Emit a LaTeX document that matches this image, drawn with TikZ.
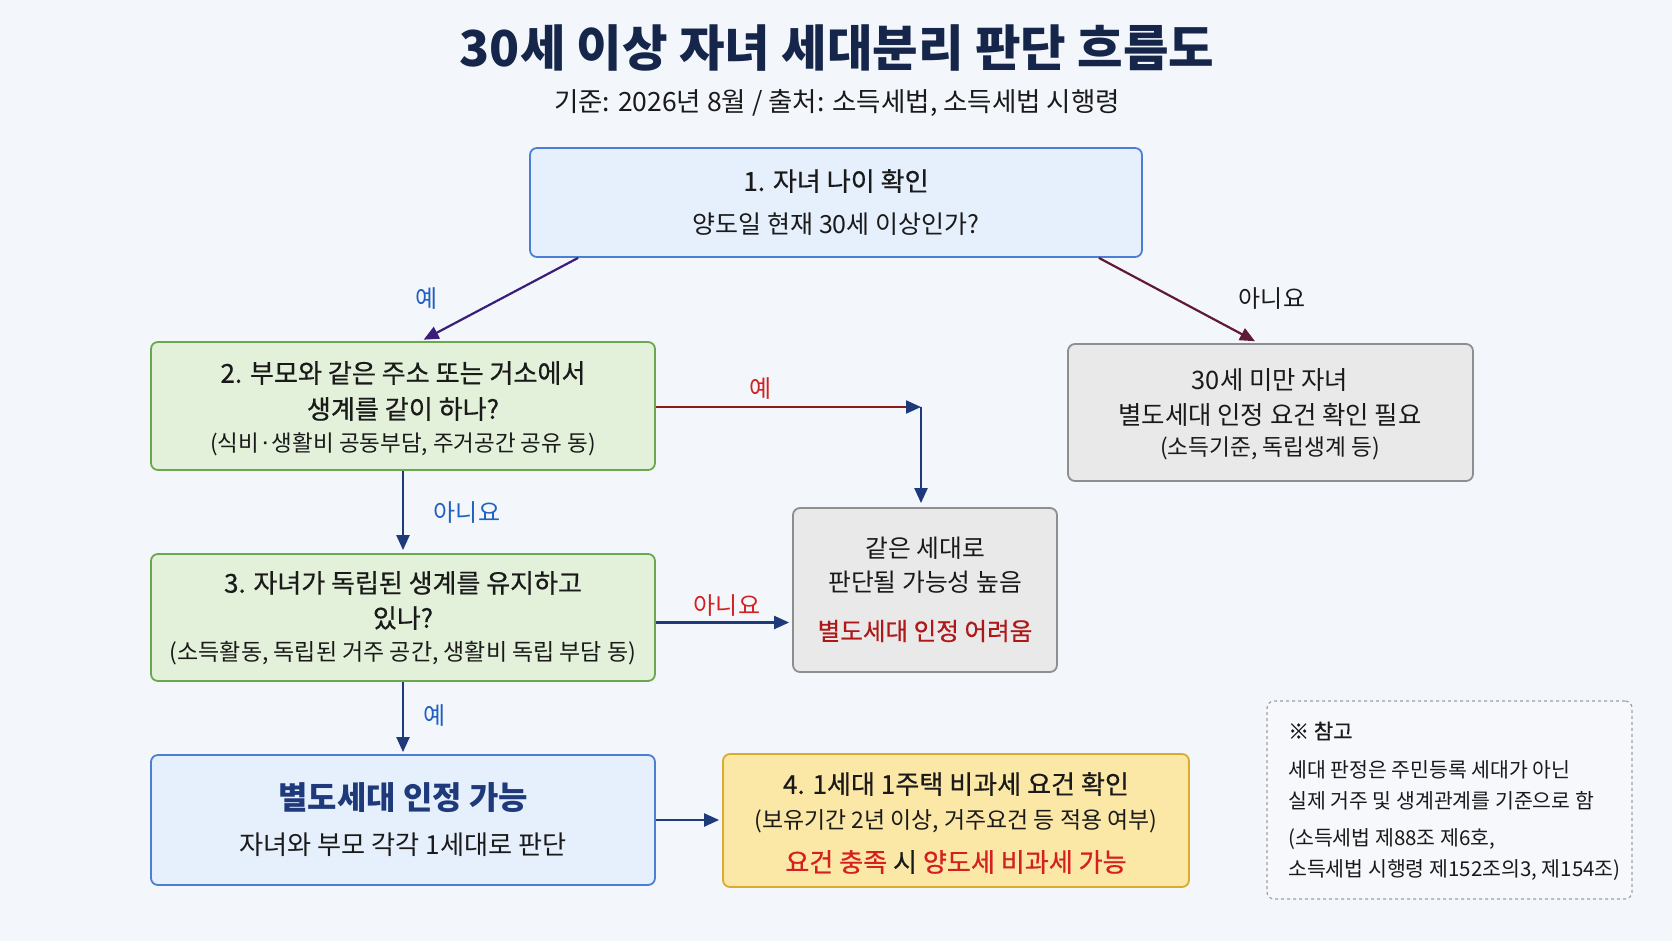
\documentclass[tikz,border=0pt]{standalone}
\usepackage{fontspec}
\setmainfont{Noto Sans CJK KR}
\newfontfamily\medf{Noto Sans CJK KR}[FakeBold=0.6]
\usetikzlibrary{arrows.meta}
\definecolor{bgc}{HTML}{F3F7FC}
\definecolor{titlec}{HTML}{16264A}
\definecolor{txt}{HTML}{1A1A1A}
\definecolor{b1fill}{HTML}{E6EFFC}
\definecolor{b1line}{HTML}{4A7FD4}
\definecolor{gfill}{HTML}{E3F1DA}
\definecolor{gline}{HTML}{6AA84F}
\definecolor{grfill}{HTML}{E9E9EA}
\definecolor{grline}{HTML}{8E8E8E}
\definecolor{yfill}{HTML}{FCE8A6}
\definecolor{yline}{HTML}{D9AB2E}
\definecolor{nfill}{HTML}{F6F8FB}
\definecolor{nline}{HTML}{A0A0A0}
\definecolor{navy}{HTML}{1F3A7A}
\definecolor{purp}{HTML}{3A1E78}
\definecolor{maroon}{HTML}{5E1A36}
\definecolor{darkred}{HTML}{8B1A1A}
\definecolor{lblue}{HTML}{2060C0}
\definecolor{lred}{HTML}{D42020}
\definecolor{warnred}{HTML}{B01818}
\newcommand\fsz[1]{\fontsize{#1}{#1}\selectfont}
\begin{document}
\begin{tikzpicture}[x=1pt,y=-1pt,
  boxbase/.style={rectangle,rounded corners=7pt,line width=1.8pt,inner sep=0pt},
  bluebox/.style={boxbase,draw=b1line,fill=b1fill},
  greenbox/.style={boxbase,draw=gline,fill=gfill},
  graybox/.style={boxbase,draw=grline,fill=grfill},
  yellowbox/.style={boxbase,draw=yline,fill=yfill},
  notebox/.style={boxbase,draw=nline,fill=nfill,dashed,line width=1.2pt},
  txtn/.style={inner sep=0pt,text=txt,font=\fsz{25pt}},
  headt/.style={txtn,font=\medf\fsz{26.1pt}},
  subt/.style={txtn,font=\fsz{22.8pt}},
  notet/.style={txtn,anchor=west,font=\fsz{20.5pt}},
  lbl/.style={inner sep=0pt,font=\fsz{24pt}},
  arr/.style={line width=2.2pt,draw=navy,-{Triangle[length=15pt,width=13pt]}}
]
\fill[bgc] (0,0) rectangle (1672,941);
\useasboundingbox (0,0) rectangle (1672,941);

% title
\node[inner sep=0pt,text=titlec,font=\bfseries\fsz{49.5pt}] (title) at (837,48) {30세 이상 자녀 세대분리 판단 흐름도};
\node[txtn,font=\fsz{26.5pt},text=txt] (subtitle) at (837,103) {기준: 2026년 8월 / 출처: 소득세법, 소득세법 시행령};

% boxes
\node[bluebox,minimum width=612pt,minimum height=109pt] (n1) at (836,202.5) {};
\node[greenbox,minimum width=504pt,minimum height=128pt] (n2) at (403,406) {};
\node[graybox,minimum width=405pt,minimum height=137pt] (g1) at (1270.5,412.5) {};
\node[graybox,minimum width=264pt,minimum height=164pt] (g2) at (925,590) {};
\node[greenbox,minimum width=504pt,minimum height=127pt] (n3) at (403,617.5) {};
\node[bluebox,minimum width=504pt,minimum height=130pt] (bl) at (403,820) {};
\node[yellowbox,minimum width=466pt,minimum height=133pt] (ye) at (956,820.5) {};
\node[notebox,minimum width=365pt,minimum height=198pt] (nt) at (1449.5,800) {};

% box 1 text
\node[headt] (n1a) at (836,181) {1. 자녀 나이 확인};
\node[txtn] (n1b) at (836,224) {양도일 현재 30세 이상인가?};
% box 2 text
\node[headt] (n2a) at (403,373) {2. 부모와 같은 주소 또는 거소에서};
\node[headt] (n2b) at (403,409) {생계를 같이 하나?};
\node[subt,font=\fsz{22.5pt}] (n2c) at (403,444) {(식비·생활비 공동부담, 주거공간 공유 동)};
% gray 1 text
\node[headt,font=\fsz{25.4pt}] (g1a) at (1270,380) {30세 미만 자녀};
\node[headt,font=\fsz{25.4pt}] (g1b) at (1270,415) {별도세대 인정 요건 확인 필요};
\node[subt,font=\fsz{22.7pt}] (g1c) at (1270,448) {(소득기준, 독립생계 등)};
% gray 2 text
\node[txtn,font=\fsz{24.8pt}] (g2a) at (925,548) {같은 세대로};
\node[txtn,font=\fsz{24.8pt}] (g2b) at (925,582) {판단될 가능성 높음};
\node[txtn,font=\medf\fsz{24.6pt},text=warnred] (g2c) at (925,631) {별도세대 인정 어려움};
% box 3 text
\node[headt,font=\medf\fsz{26pt}] (n3a) at (403,583) {3. 자녀가 독립된 생계를 유지하고};
\node[headt,font=\medf\fsz{26pt}] (n3b) at (403,618) {있나?};
\node[subt,font=\fsz{23pt}] (n3c) at (403,653) {(소득활동, 독립된 거주 공간, 생활비 독립 부담 동)};
% blue result
\node[txtn,font=\bfseries\fsz{31.9pt},text=navy] (bla) at (403,798) {별도세대 인정 가능};
\node[txtn,font=\fsz{26.2pt}] (blb) at (403,845) {자녀와 부모 각각 1세대로 판단};
% yellow
\node[headt] (yea) at (956,784) {4. 1세대 1주택 비과세 요건 확인};
\node[subt,font=\fsz{22.9pt}] (yeb) at (956,821) {(보유기간 2년 이상, 거주요건 등 적용 여부)};
\node[txtn,font=\medf\fsz{26.1pt}] (yec) at (956,862) {\textcolor{lred}{요건 충족} 시 \textcolor{lred}{양도세 비과세 가능}};
% note
\node[notet,font=\medf\fsz{21pt}] (nta) at (1288,731) {※ 참고};
\node[notet] (ntb) at (1288,770) {세대 판정은 주민등록 세대가 아닌};
\node[notet] (ntc) at (1288,801) {실제 거주 및 생계관계를 기준으로 함};
\node[notet] (ntd) at (1288,839) {(소득세법 제88조 제6호,};
\node[notet] (nte) at (1288,870) {소득세법 시행령 제152조의3, 제154조)};

% connectors
\draw[arr,draw=purp,shorten >=3pt] ([xshift=49pt]n1.south west) -- ([xshift=18pt]n2.north);
\draw[arr,draw=maroon,shorten >=4pt] ([xshift=-44pt]n1.south east) -- ([xshift=-12pt]g1.north);
\coordinate (c2) at (921,407);
\draw[line width=2.2pt,draw=darkred,-{Triangle[length=15pt,width=13pt,color=navy]}] (n2.east |- c2) -- (c2);
\draw[arr,shorten >=4pt] (c2) -- (c2 |- g2.north);
\draw[arr,shorten >=3pt] (n2.south) -- (n3.north);
\draw[arr,shorten >=3pt] ([yshift=-5pt]n3.east) -- ([yshift=-5pt]n3.east -| g2.west);
\draw[arr,shorten >=2pt] (n3.south) -- (bl.north);
\draw[arr,shorten >=3pt] (bl.east) -- (bl.east -| ye.west);

% labels
\node[lbl,text=lblue] (l1) at (427,299) {예};
\node[lbl,text=txt] (l2) at (1272,299) {아니요};
\node[lbl,text=lred] (l3) at (761,389) {예};
\node[lbl,text=lblue] (l4) at (467,513) {아니요};
\node[lbl,text=lred] (l5) at (727,606) {아니요};
\node[lbl,text=lblue] (l6) at (435,716) {예};
\end{tikzpicture}
\end{document}
